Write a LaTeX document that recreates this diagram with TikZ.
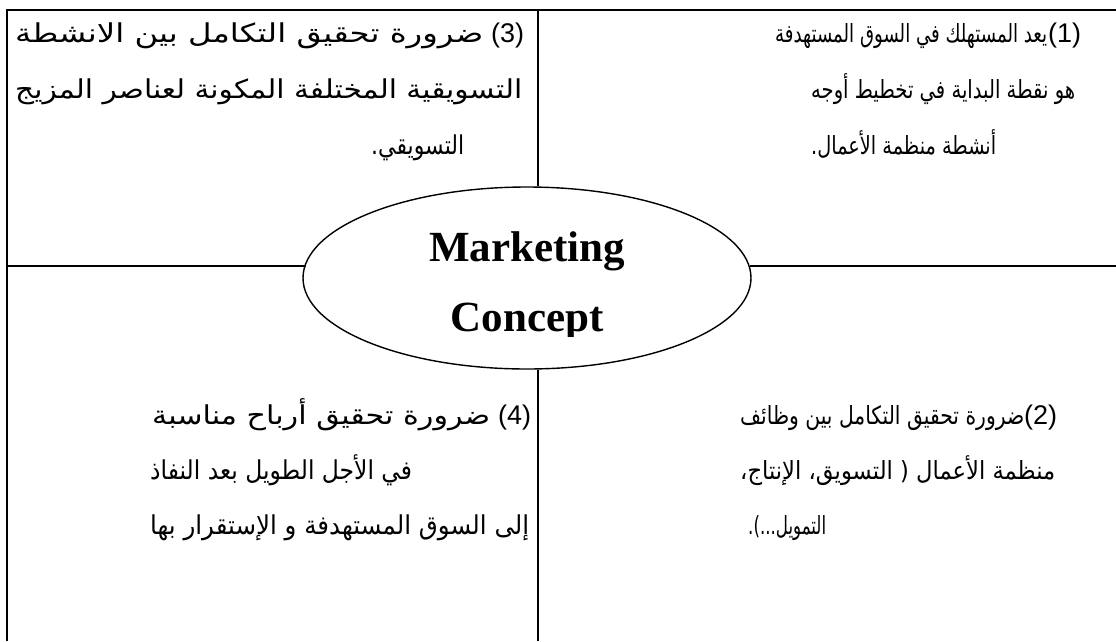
\documentclass[tikz,border=0pt]{standalone}
\usepackage{fontspec}
\usepackage{graphicx}
\usetikzlibrary{shapes.geometric}
\TeXXeTstate=1
\newfontfamily\arabicfont[Script=Arabic]{DejaVu Sans}
\newfontfamily\numfont{Liberation Sans}
\newfontfamily\titlefont{Liberation Serif}
% one Arabic line at a given size, fitted to a given width
\newcommand\arfit[3][25]{\resizebox{#2}{\height}{\arabicfont\fontsize{#1}{#1}\selectfont #3}}
% item number such as (1)
\newcommand\itemno[1]{{\numfont\fontsize{27}{30}\selectfont(#1)}}
\begin{document}
\begin{tikzpicture}[x=1pt,y=-1pt,
  frame/.style={line width=2.4pt, line join=miter},
  divider/.style={line width=1.9pt},
  txt/.style={anchor=base west, inner sep=0pt},
  title/.style={anchor=base, inner sep=0pt, font=\titlefont\bfseries\fontsize{43}{50}\selectfont}]
\useasboundingbox (0,0) rectangle (1116,641);
\fill[white] (0,0) rectangle (1116,641);

% outer frame (top and left edges)
\coordinate (tl) at (7,10);
\coordinate (tr) at (1116,10);
\coordinate (bl) at (7,641);
\draw[frame] (tr) -- (tl) -- (bl);

% central ellipse
\node[ellipse, draw, line width=1.4pt, minimum width=448pt, minimum height=182pt, inner sep=0pt] (mc) at (527,278) {};
\node[title] (mkt) at (527,261) {Marketing};
\begin{scope}
  \clip (303,180) rectangle (751,336);
  \node[title] (cpt) at (527,331) {Concept};
\end{scope}

% quadrant dividers, stopping at the ellipse
\coordinate (vtop) at (538,10);
\coordinate (vbot) at (538,641);
\coordinate (hl) at (7,266);
\coordinate (hr) at (1116,266);
\draw[divider] (vtop) -- (vtop |- mc.north);
\draw[divider] (vbot |- mc.south) -- (vbot);
\draw[divider] (hl) -- (hl -| mc.176.9);
\draw[divider] (hr -| mc.3.1) -- (hr);

% top left: item 3
\node[txt] (q3n) at (491,42) {\itemno{3}};
\node[txt] (q3a) at (15,42) {\arfit[26]{468pt}{\beginR ضرورة تحقيق التكامل بين الانشطة\endR}};
\node[txt] (q3b) at (15,98) {\arfit[26]{507pt}{\beginR التسويقية المختلفة المكونة لعناصر المزيج\endR}};
\node[txt] (q3c) at (371,154) {\arfit[26]{93pt}{\beginR التسويقي.\endR}};

% top right: item 1
\node[txt] (q1n) at (1048,42) {\itemno{1}};
\node[txt] (q1a) at (775,42) {\arfit{272pt}{\beginR يعد المستهلك في السوق المستهدفة\endR}};
\node[txt] (q1b) at (811,98) {\arfit{264pt}{\beginR هو نقطة البداية في تخطيط أوجه\endR}};
\node[txt] (q1c) at (811,154) {\arfit{185pt}{\beginR أنشطة منظمة الأعمال.\endR}};

% bottom left: item 4
\node[txt] (q4n) at (498,424) {\itemno{4}};
\node[txt] (q4a) at (152,424) {\arfit[26]{338pt}{\beginR ضرورة تحقيق أرباح مناسبة\endR}};
\node[txt] (q4b) at (150,479) {\arfit[26]{262pt}{\beginR في الأجل الطويل بعد النفاذ\endR}};
\node[txt] (q4c) at (150,534) {\arfit[26]{379pt}{\beginR إلى السوق المستهدفة و الإستقرار بها\endR}};

% bottom right: item 2
\node[txt] (q2n) at (1024,424) {\itemno{2}};
\node[txt] (q2a) at (740,424) {\arfit{284pt}{\beginR ضرورة تحقيق التكامل بين وظائف\endR}};
\node[txt] (q2b) at (740,479) {\arfit{315pt}{\beginR منظمة الأعمال ( التسويق، الإنتاج،\endR}};
\node[txt] (q2c) at (748,534) {\arfit{78pt}{\beginR التمويل...).\endR}};
\end{tikzpicture}
\end{document}
